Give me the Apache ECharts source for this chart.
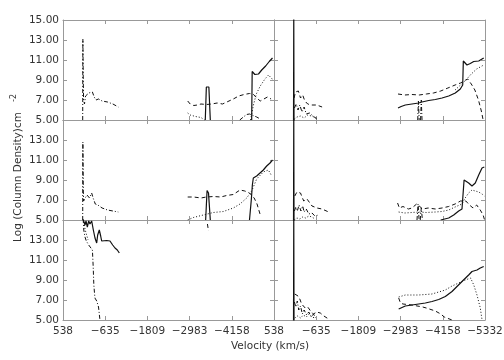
<!DOCTYPE html>
<html>
<head>
<meta charset="utf-8">
<script src="https://cdn.jsdelivr.net/npm/echarts@6/dist/echarts.min.js"></script>
<style>
html, body { margin: 0; padding: 0; background: #fff; }
#chart { width: 504px; height: 360px; }
</style>
</head>
<body>
<div id="chart"></div>
<script>
// tick values
const xTicks = [538, -635, -1809, -2983, -4158, -5332];
const yTicks = [5, 7, 9, 11, 13, 15];

// each line is a list of segments, each segment a list of [velocity, log N]
// panel A (top left)
const solidA = [
  [[-3420, 5], [-3450, 8.3], [-3480, 8.45], [-3520, 8.3], [-3560, 5]],
  [[-4711, 5], [-4725, 9.85], [-4760, 9.8], [-4800, 9.55], [-4900, 9.6], [-4990, 10.0], [-5100, 10.4], [-5200, 10.85], [-5290, 11.2]]
];
const dotA = [
  [[-2931, 5.7], [-3000, 5.5], [-3150, 5.35], [-3300, 5.25], [-3400, 5.0]],
  [[-4680, 5], [-4760, 6.5], [-4840, 7.6], [-4950, 8.4], [-5080, 9.1], [-5180, 9.5], [-5280, 9.1], [-5332, 9.0]]
];
const dashA = [
  [[-2931, 6.9], [-3000, 6.6], [-3100, 6.45], [-3200, 6.5], [-3300, 6.6], [-3450, 6.55], [-3600, 6.6], [-3750, 6.7], [-3900, 6.6], [-4050, 6.85], [-4200, 7.1], [-4350, 7.4], [-4500, 7.55], [-4650, 7.65], [-4750, 7.6], [-4850, 7.2], [-4950, 6.9], [-5050, 7.1], [-5150, 7.3], [-5250, 7.1]]
];
const ddA = [
  [[-10, 5], [-15, 13.1], [-25, 9], [-35, 7.0], [-60, 6.6], [-90, 7.4], [-130, 7.2], [-180, 7.7], [-230, 7.5], [-280, 7.8], [-330, 7.3], [-380, 7.0], [-450, 7.1], [-550, 6.9], [-700, 6.8], [-850, 6.6], [-1000, 6.3]],
  [[-4380, 5], [-4480, 5.3], [-4570, 5.55], [-4650, 5.6], [-4750, 5.45], [-4850, 5.3], [-4950, 5.1]]
];

// panel B (top right)
const solidB = [
  [[-5, 4.9], [-12, 16], [-19, 4.9]],
  [[-2912, 6.2], [-3000, 6.35], [-3115, 6.5], [-3300, 6.6], [-3487, 6.7], [-3579, 6.8], [-3765, 6.95], [-3950, 7.05], [-4136, 7.2], [-4322, 7.4], [-4506, 7.7], [-4645, 8.1], [-4712, 8.5], [-4729, 10.9], [-4830, 10.5], [-4923, 10.65], [-5018, 10.85], [-5157, 10.9], [-5296, 11.2]]
];
const dotB = [
  [[-30, 5.1], [-100, 5.3], [-200, 5.4], [-300, 5.2], [-400, 5.5], [-500, 5.4], [-650, 5.2]],
  [[-4500, 8.0], [-4650, 8.5], [-4800, 9.0], [-4950, 9.6], [-5100, 10.1], [-5296, 10.5]]
];
const dashB = [
  [[-20, 7.2], [-60, 7.8], [-100, 7.6], [-140, 7.9], [-200, 7.2], [-260, 7.5], [-320, 6.9], [-400, 6.6], [-500, 6.5], [-650, 6.5], [-800, 6.3]],
  [[-2912, 7.6], [-3100, 7.5], [-3300, 7.55], [-3500, 7.5], [-3700, 7.6], [-3900, 7.7], [-4100, 7.9], [-4300, 8.2], [-4500, 8.5], [-4650, 8.7], [-4750, 8.9], [-4850, 9.1], [-4950, 8.6], [-5050, 8.0], [-5150, 7.0], [-5230, 5.9], [-5280, 5.0]]
];
const ddB = [
  [[-30, 6.2], [-80, 6.6], [-130, 6.0], [-180, 6.5], [-240, 5.8], [-300, 6.3], [-360, 5.6], [-450, 5.7], [-550, 5.4], [-650, 5.1]],
  [[-3460, 5], [-3480, 6.9], [-3500, 5]],
  [[-3540, 5], [-3560, 7.0], [-3580, 5]]
];

// panel C (middle left)
const solidC = [
  [[-3430, 5], [-3470, 7.95], [-3510, 7.7], [-3560, 5]],
  [[-4650, 5], [-4700, 7.0], [-4730, 8.5], [-4757, 9.2], [-4850, 9.4], [-4943, 9.7], [-5035, 10.0], [-5129, 10.4], [-5221, 10.7], [-5290, 11.0]]
];
const dotC = [
  [[-2931, 5.0], [-3088, 5.25], [-3366, 5.5], [-3645, 5.75], [-3923, 5.85], [-4200, 6.2], [-4386, 6.6], [-4572, 7.2], [-4711, 7.9], [-4850, 9.1], [-5035, 9.8], [-5175, 10.0], [-5270, 9.4]]
];
const dashC = [
  [[-2931, 7.3], [-3100, 7.3], [-3300, 7.2], [-3450, 7.3], [-3650, 7.35], [-3850, 7.3], [-4016, 7.45], [-4200, 7.55], [-4386, 8.0], [-4520, 7.9], [-4650, 7.7], [-4780, 7.2], [-4860, 6.6], [-4943, 5.6]]
];
const ddC = [
  [[-10, 5], [-15, 12.8], [-25, 8], [-35, 6.9], [-80, 7.2], [-130, 7.5], [-200, 7.2], [-260, 7.7], [-300, 7.2], [-360, 6.6], [-430, 6.5], [-550, 6.2], [-700, 6.0], [-850, 5.9], [-1000, 5.8]]
];

// panel D (middle right)
const solidD = [
  [[-5, 4.9], [-12, 16], [-19, 4.9]],
  [[-4100, 5.0], [-4322, 5.2], [-4461, 5.5], [-4600, 5.9], [-4692, 6.1], [-4730, 6.2], [-4750, 9.0], [-4800, 9.1], [-4877, 8.7], [-4970, 8.4], [-5062, 8.7], [-5157, 9.5], [-5249, 10.2], [-5313, 10.3]]
];
const dotD = [
  [[-30, 5.0], [-100, 5.2], [-180, 5.1], [-260, 5.3], [-340, 5.2], [-430, 5.4], [-520, 5.3], [-600, 5.1]],
  [[-2930, 5.8], [-3100, 5.7], [-3300, 5.75], [-3500, 5.8], [-3700, 5.75], [-3950, 5.8], [-4136, 5.85], [-4322, 6.0], [-4500, 6.3], [-4692, 6.6], [-4780, 7.2], [-4877, 7.7], [-4970, 8.0], [-5062, 7.9], [-5157, 7.8], [-5250, 7.6], [-5313, 7.4]]
];
const dashD = [
  [[-40, 7.4], [-56, 7.6], [-100, 7.8], [-149, 7.6], [-200, 7.7], [-241, 7.3], [-290, 6.9], [-333, 6.7], [-380, 7.1], [-427, 7.0], [-519, 6.4], [-658, 6.2], [-797, 6.1], [-983, 5.8]],
  [[-2900, 6.7], [-2950, 6.2], [-3050, 6.35], [-3200, 6.1], [-3300, 6.2], [-3430, 6.6], [-3500, 6.4], [-3600, 6.1], [-3750, 6.2], [-3950, 6.1], [-4136, 6.2], [-4322, 6.35], [-4500, 6.6], [-4650, 6.9], [-4700, 7.0], [-4800, 6.9], [-4900, 6.5], [-5000, 6.2], [-5100, 6.5], [-5200, 6.0], [-5280, 5.5], [-5320, 5.0]]
];
const ddD = [
  [[-30, 5.9], [-70, 6.3], [-110, 5.9], [-160, 6.5], [-210, 5.9], [-260, 6.4], [-300, 5.8], [-360, 6.1], [-430, 5.6], [-520, 5.7], [-600, 5.4], [-700, 5.5]],
  [[-3440, 5], [-3470, 6.6], [-3500, 5]],
  [[-3530, 5], [-3560, 6.2], [-3590, 5]]
];

// panel E (bottom left)
const solidE = [
  [[-20, 15.5], [-27, 15.0], [-74, 14.5], [-102, 14.9], [-139, 14.3], [-177, 14.9], [-213, 14.6], [-260, 14.9], [-306, 14.0], [-352, 13.2], [-399, 12.7], [-427, 13.5], [-472, 14.0], [-510, 13.4], [-538, 12.9], [-583, 13.0], [-677, 12.95], [-769, 12.9], [-844, 12.5], [-909, 12.2], [-973, 12.0], [-1029, 11.7]]
];
const dotE = [
  [[-40, 14.8], [-80, 14.0], [-120, 13.5], [-160, 13.0]]
];
const dashE = [
  [[-3480, 14.6], [-3510, 13.9]]
];
const ddE = [
  [[-10, 16], [-40, 14.0], [-74, 13.3], [-110, 12.9], [-177, 12.5], [-230, 12.3], [-280, 12.0], [-300, 10.5], [-320, 8.5], [-350, 7.2], [-400, 6.9], [-450, 6.3], [-490, 5.0]]
];

// panel F (bottom right)
const solidF = [
  [[-5, 4.9], [-12, 16], [-19, 4.9]],
  [[-2931, 6.1], [-3115, 6.4], [-3301, 6.5], [-3487, 6.6], [-3672, 6.7], [-3858, 6.85], [-4044, 7.05], [-4228, 7.35], [-4414, 7.85], [-4553, 8.35], [-4692, 8.85], [-4877, 9.5], [-4970, 9.85], [-5109, 10.0], [-5201, 10.2], [-5296, 10.35]]
];
const dotF = [
  [[-40, 5.2], [-120, 5.4], [-200, 5.2], [-280, 5.5], [-360, 5.3], [-440, 5.6], [-520, 5.3], [-600, 5.2]],
  [[-2931, 7.3], [-3115, 7.5], [-3487, 7.5], [-3858, 7.6], [-4044, 7.8], [-4228, 8.0], [-4414, 8.4], [-4600, 8.7], [-4784, 9.0], [-4930, 9.2], [-5020, 8.5], [-5109, 7.5], [-5201, 6.2], [-5250, 5.0]]
];
const dashF = [
  [[-40, 7.6], [-80, 7.8], [-130, 7.4], [-180, 7.1], [-230, 6.6], [-280, 6.8], [-330, 6.2], [-400, 6.3], [-480, 5.9], [-560, 5.6], [-650, 5.8], [-750, 5.7], [-850, 5.4], [-980, 5.1]],
  [[-2931, 7.2], [-2980, 6.7], [-3050, 6.6], [-3300, 6.5], [-3600, 6.3], [-3700, 6.2], [-3950, 5.9], [-4100, 5.6], [-4200, 5.3], [-4414, 5.0]]
];
const ddF = [
  [[-30, 6.8], [-70, 6.3], [-110, 6.9], [-150, 6.0], [-200, 6.4], [-250, 5.6], [-300, 6.0], [-370, 5.5], [-430, 5.8], [-500, 5.3], [-560, 5.6], [-620, 5.2]]
];

const panels = [
  { solid: solidA, dot: dotA, dash: dashA, dashdot: ddA },
  { solid: solidB, dot: dotB, dash: dashB, dashdot: ddB },
  { solid: solidC, dot: dotC, dash: dashC, dashdot: ddC },
  { solid: solidD, dot: dotD, dash: dashD, dashdot: ddD },
  { solid: solidE, dot: dotE, dash: dashE, dashdot: ddE },
  { solid: solidF, dot: dotF, dash: dashF, dashdot: ddF }
];

const frameColor = '#999';
const textColor = '#333';
const font = 'DejaVu Sans';
const lineStyles = {
  solid: { type: 'solid', width: 1.2 },
  dot: { type: [1, 2], width: 1 },
  dash: { type: [4, 3], width: 1 },
  dashdot: { type: [4, 2, 1, 2], width: 1 }
};

function fmtX(v) {
  return v < 0 ? '\u2212' + Math.abs(v) : String(v);
}

const grid = [];
const xAxis = [];
const yAxis = [];
const series = [];

panels.forEach((p, i) => {
  const row = Math.floor(i / 2);
  const col = i % 2;
  grid.push({
    left: col === 0 ? 63 : 274,
    top: 20 + row * 100,
    width: 211,
    height: 100,
    containLabel: false,
    outerBoundsMode: 'none'
  });
  const axLine = { onZero: false, lineStyle: { color: frameColor, width: 1 } };
  const xTick = { inside: true, length: 4, customValues: xTicks, lineStyle: { color: frameColor } };
  const yTick = { inside: true, length: 4, customValues: yTicks, lineStyle: { color: frameColor } };
  xAxis.push({
    gridIndex: i, type: 'value', min: -5332, max: 538, inverse: true, position: 'bottom',
    axisLine: axLine, axisTick: xTick, splitLine: { show: false },
    axisLabel: {
      show: row === 2,
      customValues: col === 0 ? xTicks.slice(0, 5) : xTicks,
      formatter: fmtX, margin: 6, color: textColor, fontFamily: font, fontSize: 10.5
    }
  });
  xAxis.push({
    gridIndex: i, type: 'value', min: -5332, max: 538, inverse: true, position: 'top',
    axisLine: axLine, axisTick: xTick, splitLine: { show: false }, axisLabel: { show: false }
  });
  yAxis.push({
    gridIndex: i, type: 'value', min: 5, max: 15, position: 'left',
    axisLine: axLine, axisTick: yTick, splitLine: { show: false },
    axisLabel: {
      show: col === 0,
      customValues: row === 0 ? yTicks : yTicks.slice(0, 5),
      formatter: v => v.toFixed(2), margin: 4, color: textColor, fontFamily: font, fontSize: 10.5
    }
  });
  yAxis.push({
    gridIndex: i, type: 'value', min: 5, max: 15, position: 'right',
    axisLine: axLine, axisTick: yTick, splitLine: { show: false }, axisLabel: { show: false }
  });
  Object.keys(lineStyles).forEach(key => {
    p[key].forEach(seg => {
      series.push({
        type: 'line',
        xAxisIndex: 2 * i,
        yAxisIndex: 2 * i,
        data: seg,
        symbol: 'none',
        silent: true,
        lineStyle: Object.assign({ color: '#111' }, lineStyles[key])
      });
    });
  });
});

const chart = echarts.init(document.getElementById('chart'));
chart.setOption({
  animation: false,
  backgroundColor: '#fff',
  grid,
  xAxis,
  yAxis,
  series,
  graphic: [
    {
      type: 'text', x: 18, y: 177, rotation: Math.PI / 2,
      style: {
        text: 'Log (Column Density)cm', fill: textColor,
        font: '10.5px "DejaVu Sans"', textAlign: 'center', textVerticalAlign: 'middle',
        align: 'center', verticalAlign: 'middle'
      }
    },
    {
      type: 'text', x: 14, y: 98, rotation: Math.PI / 2,
      style: {
        text: '-2', fill: textColor,
        font: '8px "DejaVu Sans"', textAlign: 'center', textVerticalAlign: 'middle',
        align: 'center', verticalAlign: 'middle'
      }
    },
    {
      type: 'text', x: 270, y: 346,
      style: {
        text: 'Velocity (km/s)', fill: textColor,
        font: '10.5px "DejaVu Sans"', textAlign: 'center', textVerticalAlign: 'middle',
        align: 'center', verticalAlign: 'middle'
      }
    }
  ]
});
</script>
</body>
</html>
